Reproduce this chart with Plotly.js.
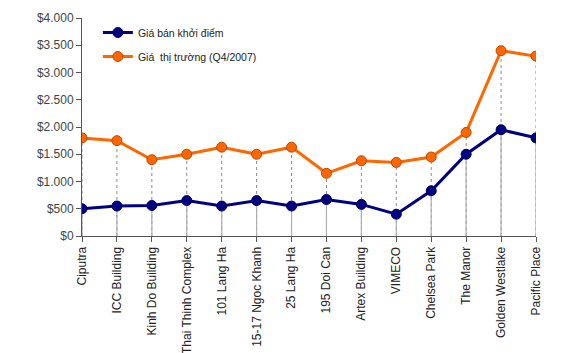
<!DOCTYPE html>
<html><head><meta charset="utf-8">
<script src="https://cdn.plot.ly/plotly-3.0.1.min.js"></script>
<style>html,body{margin:0;padding:0;background:#fff}#c{width:578px;height:353px}</style>
</head><body><div id="c"></div>
<script>
const categories = ["Ciputra","ICC Building","Kinh Do Building","Thai Thinh Complex","101 Lang Ha","15-17 Ngoc Khanh","25 Lang Ha","195 Doi Can","Artex Building","VIMECO","Chelsea Park","The Manor","Golden Westlake","Pacific Place"];
const giaBan = [500,550,560,650,550,650,550,670,580,400,830,1500,1950,1800];
const giaThiTruong = [1800,1750,1400,1500,1630,1500,1630,1150,1380,1350,1450,1900,3400,3300];
const yTickVals = [0,500,1000,1500,2000,2500,3000,3500,4000];
const yTickText = ["$0","$500","$1.000","$1.500","$2.000","$2.500","$3.000","$3.500","$4.000"];

const idx = categories.map((c,i)=>i);
function drops(vals){
  const x=[],y=[];
  vals.forEach((v,i)=>{x.push(i,i,null);y.push(0,v,null);});
  return {x,y};
}
const dHigh = drops(giaThiTruong), dLow = drops(giaBan);
const data = [
  {x:dHigh.x,y:dHigh.y,mode:'lines',line:{color:'#8c8c8c',width:1,dash:'3px,3px'},showlegend:false,hoverinfo:'skip'},
  {x:dLow.x,y:dLow.y,mode:'lines',line:{color:'#b0b0b0',width:1.2},showlegend:false,hoverinfo:'skip'},
  {x:idx,y:giaBan,name:'Giá bán khởi điểm',mode:'lines+markers',legendgroup:'a',
   line:{color:'#000080',width:3},marker:{color:'#000080',size:10,line:{color:'#000060',width:1}}},
  {x:idx,y:giaThiTruong,name:'Giá  thị trường (Q4/2007)',mode:'lines+markers',legendgroup:'b',
   line:{color:'#FF6600',width:3},marker:{color:'#FF6600',size:10,line:{color:'#B84A00',width:1}}}
];
const layout = {
  width:578,height:353,
  margin:{l:82,r:42,t:18,b:117},
  paper_bgcolor:'#fff',plot_bgcolor:'#fff',
  font:{family:'Liberation Sans, Arial, sans-serif',size:11,color:'#333'},
  xaxis:{range:[0,13],tickvals:idx,ticktext:categories,tickangle:-90,
    showgrid:false,zeroline:false,showline:true,linecolor:'#555',linewidth:1,
    ticks:'outside',ticklen:5,tickcolor:'#555',tickfont:{size:12,color:'#222'}},
  yaxis:{range:[0,4000],tickvals:yTickVals,ticktext:yTickText,
    showgrid:false,zeroline:false,showline:true,linecolor:'#555',linewidth:1,
    ticks:'outside',ticklen:5,tickcolor:'#555',tickfont:{size:12,color:'#444'}},
  legend:{x:0.035,y:1.0,xanchor:'left',yanchor:'top',bgcolor:'rgba(0,0,0,0)',
    font:{size:10.5,color:'#222'},itemwidth:30,tracegroupgap:5},
  showlegend:true
};
Plotly.newPlot('c',data,layout,{staticPlot:true,displayModeBar:false});
</script></body></html>
